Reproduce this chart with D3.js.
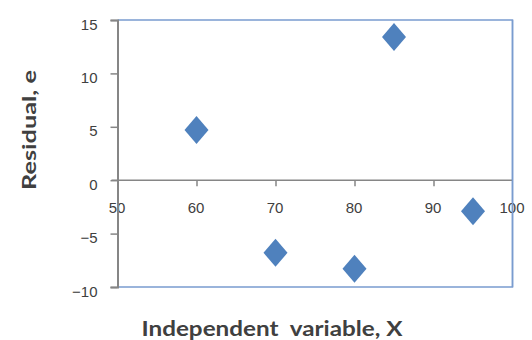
<!DOCTYPE html>
<html>
<head>
<meta charset="utf-8">
<script src="https://cdn.jsdelivr.net/npm/d3@7"></script>
<style>
  html, body { margin: 0; padding: 0; background: #fff; }
  svg { display: block; }
  .tick text { font-family: "Liberation Sans", Arial, sans-serif; font-size: 15px; fill: #404040; }
  .title { font-family: Lato, "Liberation Sans", Arial, sans-serif; font-weight: bold; fill: #404040; }
</style>
</head>
<body>
<svg id="chart" width="532" height="340"></svg>
<script>
// Residuals against the independent variable
const xValues = [60, 70, 80, 85, 95];
const residuals = [4.7, -6.8, -8.3, 13.4, -2.9];
const xTicks = [50, 60, 70, 80, 90, 100];
const yTicks = [-10, -5, 0, 5, 10, 15];

const plotLeft = 117.5, plotRight = 512.5, plotTop = 20, plotBottom = 287;

const svg = d3.select("#chart");

const x = d3.scaleLinear().domain([50, 100]).range([plotLeft, plotRight]);
const y = d3.scaleLinear().domain([-10, 15]).range([plotBottom, plotTop]);

const axisGray = "#868686";
const frameBlue = "#7a9ccf";

// plot frame (top, right, bottom)
svg.append("path")
  .attr("d", `M${plotLeft},${plotTop}H${plotRight}V${plotBottom}H${plotLeft}`)
  .attr("fill", "none")
  .attr("stroke", frameBlue)
  .attr("stroke-width", 1.5);

// horizontal axis through zero
const xAxis = svg.append("g")
  .attr("transform", `translate(0,${y(0)})`)
  .call(d3.axisBottom(x).tickValues(xTicks).tickSize(6).tickPadding(16).tickFormat(d3.format("d")));
xAxis.select(".domain").attr("stroke", axisGray).attr("stroke-width", 1.5)
  .attr("d", `M${plotLeft - 6},0H${plotRight}`);
xAxis.selectAll(".tick line").attr("stroke", axisGray).attr("stroke-width", 1.5)
  .filter(d => d === 50 || d === 100).remove();
xAxis.selectAll(".tick text").attr("dx", -1);

// vertical axis
const yAxis = svg.append("g")
  .attr("transform", `translate(${plotLeft},0)`)
  .call(d3.axisLeft(y).tickValues(yTicks).tickSize(7).tickPadding(13).tickFormat(d3.format("d")));
yAxis.select(".domain").attr("stroke", axisGray).attr("stroke-width", 2);
yAxis.selectAll(".tick line").attr("stroke", axisGray).attr("stroke-width", 1.5);
yAxis.selectAll(".tick text").attr("dy", "0.6em");

// redraw right border on top of the "100" label
svg.append("line")
  .attr("x1", plotRight).attr("x2", plotRight).attr("y1", plotTop).attr("y2", plotBottom)
  .attr("stroke", frameBlue).attr("stroke-width", 1.5);

// diamond markers
const diamond = "M0,-14L12,0L0,14L-12,0Z";
svg.append("g").selectAll("path")
  .data(xValues.map((v, i) => [v, residuals[i]]))
  .join("path")
  .attr("d", diamond)
  .attr("transform", d => `translate(${x(d[0])},${y(d[1])})`)
  .attr("fill", "#4f81bd");

// axis titles
svg.append("text")
  .attr("class", "title")
  .attr("transform", `translate(36,130) rotate(-90)`)
  .attr("text-anchor", "middle")
  .attr("font-size", 19)
  .attr("textLength", 120)
  .attr("lengthAdjust", "spacingAndGlyphs")
  .text("Residual, e");

svg.append("text")
  .attr("class", "title")
  .attr("x", 272)
  .attr("y", 336)
  .attr("text-anchor", "middle")
  .attr("font-size", 20)
  .attr("textLength", 261)
  .attr("lengthAdjust", "spacingAndGlyphs")
  .attr("xml:space", "preserve")
  .text("Independent  variable, X");
</script>
</body>
</html>
